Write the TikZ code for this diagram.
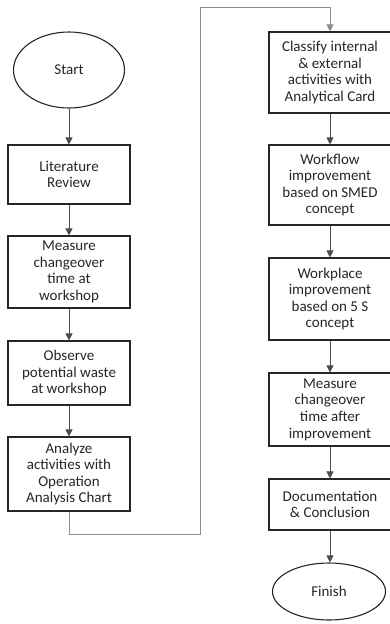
\documentclass[tikz,border=0pt]{standalone}
\usepackage{fontspec}
\setmainfont{Carlito}
\usetikzlibrary{shapes.geometric,arrows.meta}
\tikzset{
  stepbox/.style={draw=black!85, line width=1.1pt, minimum width=122pt, inner sep=0pt, align=center,
    font=\fontsize{15}{16.6}\selectfont, text=black!85},
  term/.style={ellipse, draw=black!85, line width=1.1pt, inner sep=0pt, font=\fontsize{15}{16.6}\selectfont, text=black!85},
  flow/.style={draw=black!70, line width=0.8pt, -{Triangle[width=7pt,length=7pt]}},
  link/.style={draw=black!45, line width=0.9pt, -{Triangle[width=7pt,length=7pt]}}
}
\begin{document}
\begin{tikzpicture}[x=1pt,y=-1pt]
\useasboundingbox (0,0) rectangle (389,624);
\node[term, minimum width=111pt, minimum height=76pt] (start) at (69,70) {Start};
\node[stepbox, minimum height=59pt] (lit) at (69,174.5) {Literature\\Review};
\node[stepbox, minimum height=72pt] (meas) at (69,272) {Measure\\changeover\\time at\\workshop};
\node[stepbox, minimum height=64pt] (obs) at (69,373) {Observe\\potential waste\\at workshop};
\node[stepbox, minimum height=74pt] (ana) at (69,474) {Analyze\\activities with\\Operation\\Analysis Chart};
\node[stepbox, minimum height=81pt] (cls) at (330,72.5) {Classify internal\\\& external\\activities with\\Analytical Card};
\node[stepbox, minimum height=80pt] (wf) at (330,185) {Workflow\\improvement\\based on SMED\\concept};
\node[stepbox, minimum height=82pt] (wp) at (330,299) {Workplace\\improvement\\based on 5 S\\concept};
\node[stepbox, minimum height=73pt] (ma) at (330,409.5) {Measure\\changeover\\time after\\improvement};
\node[stepbox, minimum height=51pt] (doc) at (330,504.5) {Documentation\\\& Conclusion};
\node[term, minimum width=113pt, minimum height=57pt] (fin) at (329,591.5) {Finish};
\coordinate (c1) at (69,534);
\coordinate (c2) at (200,534);
\coordinate (c3) at (200,7);
\coordinate (c4) at (330,7);
\draw[flow] (start) -- (lit);
\draw[flow] (lit) -- (meas);
\draw[flow] (meas) -- (obs);
\draw[flow] (obs) -- (ana);
\draw[link] (ana.south) -- (c1) -- (c2) -- (c3) -- (c4) -- (cls.north);
\draw[flow] (cls) -- (wf);
\draw[flow] (wf) -- (wp);
\draw[flow] (wp) -- (ma);
\draw[flow] (ma) -- (doc);
\draw[flow] (doc.south) -- (doc.south |- fin.north);
\end{tikzpicture}
\end{document}
